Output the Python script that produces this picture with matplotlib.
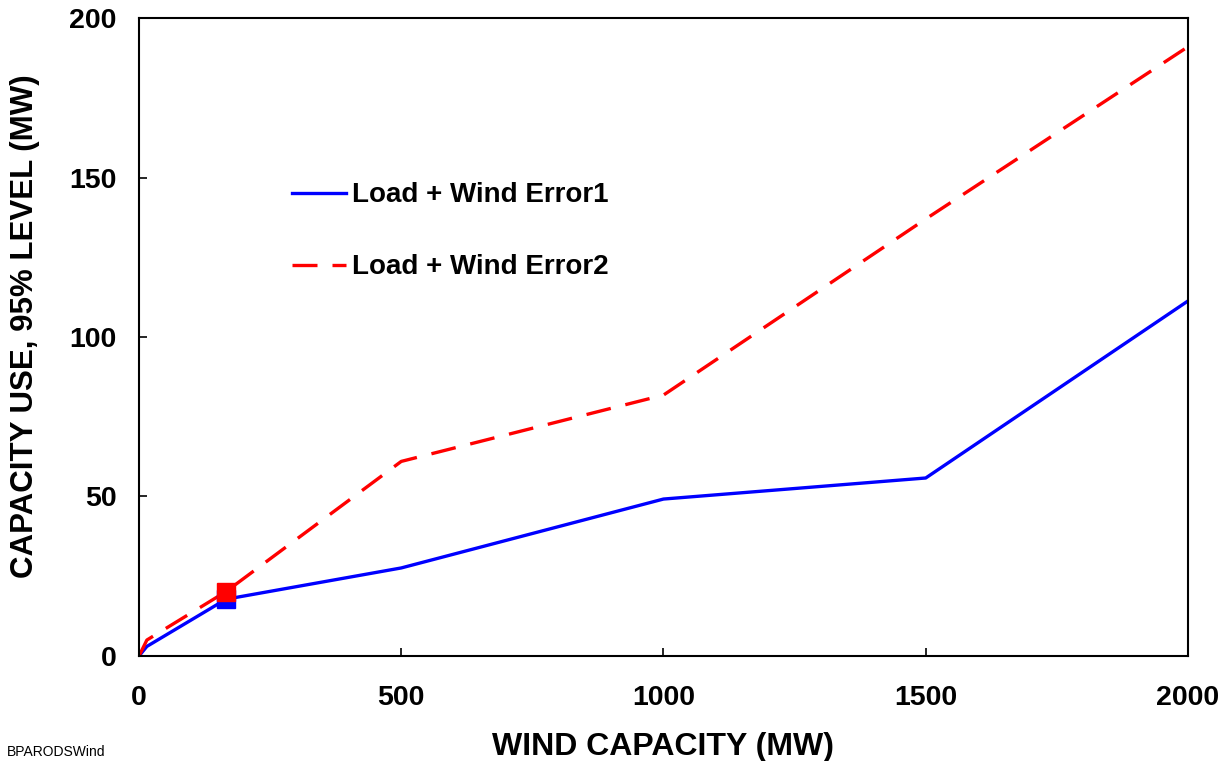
import matplotlib
matplotlib.use("Agg")
import matplotlib.pyplot as plt

plt.rcParams.update({
    'font.family': ['Liberation Sans', 'DejaVu Sans'],
    'font.weight': 'bold',
})

# wind capacity (MW)
wind_mw = [0, 15, 166, 500, 1000, 1500, 2000]
# capacity use, 95% level (MW)
error1 = [0, 3, 17.8, 27.6, 49.2, 55.8, 111.3]
error2 = [0, 5, 20.2, 61.0, 81.8, 137.0, 191.0]

marker_x = [166]
marker_e1 = [17.8]
marker_e2 = [20.2]

x_ticks = [0, 500, 1000, 1500, 2000]
y_ticks = [0, 50, 100, 150, 200]

fig = plt.figure(figsize=(12.28, 7.61), dpi=100)
ax = fig.add_axes([0.1132, 0.138, 0.8542, 0.8383])

ax.plot(wind_mw, error1, color='#0000FF', linewidth=2.4,
        label='Load + Wind Error1')
ax.plot(wind_mw, error2, color='#FF0000', linewidth=2.4,
        dashes=(7.5, 4.5), label='Load + Wind Error2')
ax.plot(marker_x, marker_e1, 's', color='#0000FF', markersize=13.5, label='_nolegend_')
ax.plot(marker_x, marker_e2, 's', color='#FF0000', markersize=13.5, label='_nolegend_')

ax.set_xlim(0, 2000)
ax.set_ylim(0, 200)
ax.set_xticks(x_ticks)
ax.set_yticks(y_ticks)
ax.tick_params(direction='in', length=6, width=1.2, labelsize=20.5)
ax.tick_params(axis='x', pad=21)
ax.tick_params(axis='y', pad=16)
for lbl in ax.get_xticklabels() + ax.get_yticklabels():
    lbl.set_fontweight('bold')
for s in ax.spines.values():
    s.set_linewidth(1.5)

ax.set_xlabel('WIND CAPACITY (MW)', fontsize=23, fontweight='bold', labelpad=15)
ax.set_ylabel('CAPACITY USE, 95% LEVEL (MW)', fontsize=22.5, fontweight='bold')
ax.yaxis.set_label_coords(-0.0943, 0.517)

leg = ax.legend(loc='upper left', bbox_to_anchor=(0.122, 0.7815), frameon=False,
                fontsize=20, handlelength=1.95, handletextpad=0.2, labelspacing=1.65)
for t in leg.get_texts():
    t.set_fontweight('bold')

fig.text(0.006, 0.007, 'BPARODSWind', fontsize=10, fontweight='normal')

fig.savefig('out.png', dpi=100)
